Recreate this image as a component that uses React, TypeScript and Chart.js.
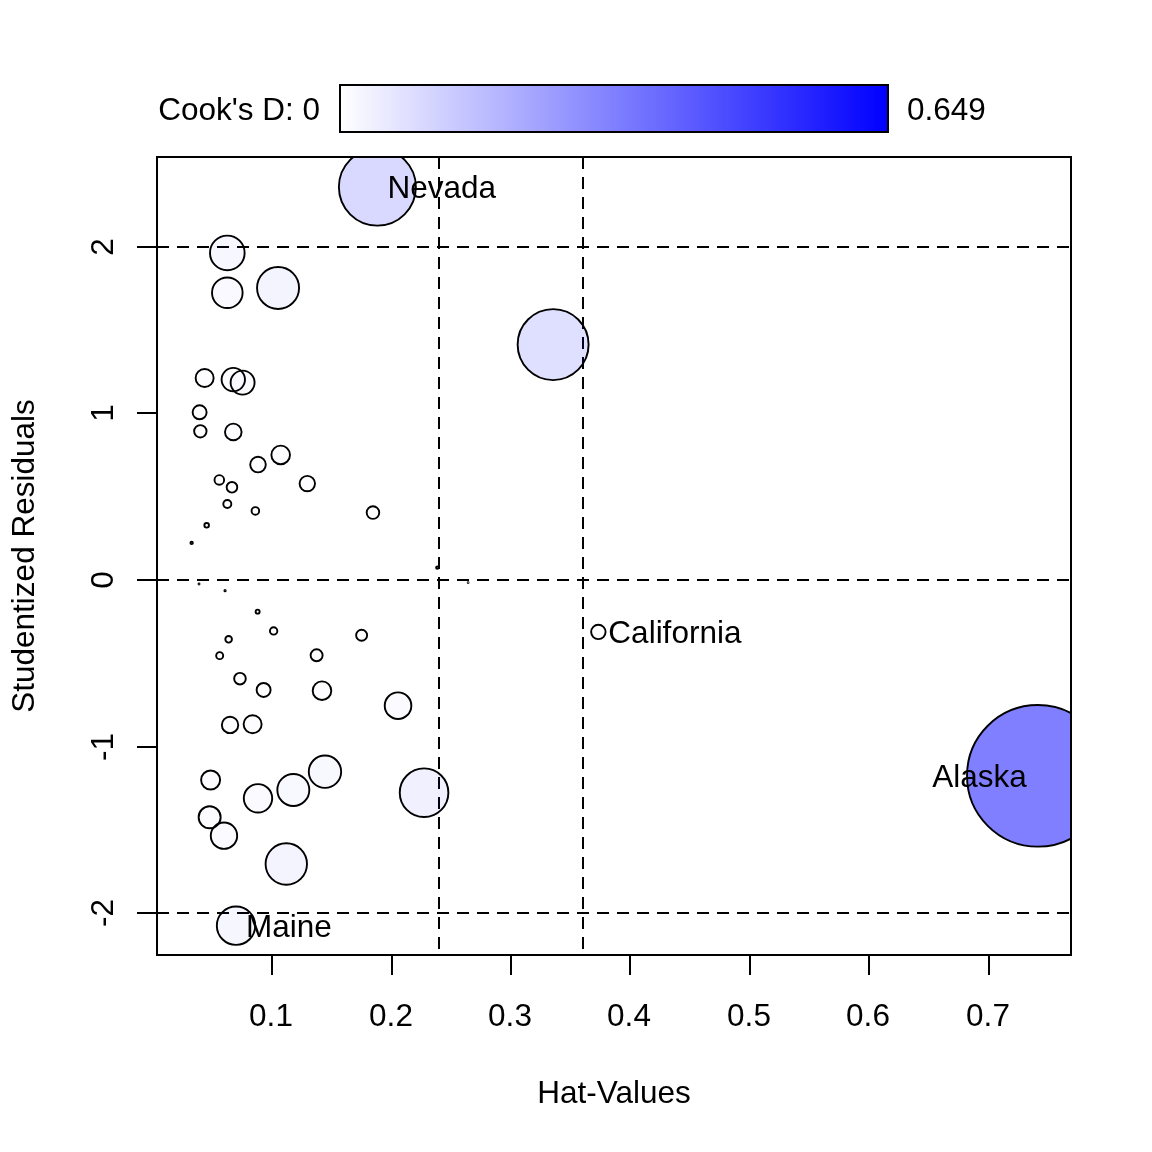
import React, { useEffect, useRef } from "react";
import { Chart, registerables } from "chart.js";

Chart.register(...registerables);

// ---- Data ----
const pointNames = [
  "Nevada", "", "", "", "", "", "", "", "", "",
  "", "", "", "", "", "", "", "", "", "",
  "", "", "", "", "", "", "", "", "", "",
  "", "", "", "", "", "", "", "", "", "",
  "", "", "", "", "Maine", "California", "Alaska", "",
];
const hatValues = [
  0.188, 0.0623, 0.0623, 0.1048, 0.0433, 0.0673, 0.0751, 0.0391, 0.0397, 0.0673,
  0.107, 0.088, 0.0556, 0.0662, 0.1293, 0.0623, 0.0858, 0.1843, 0.045, 0.0324,
  0.2382, 0.0386, 0.0604, 0.264, 0.0877, 0.1011, 0.0634, 0.1748, 0.0559, 0.1371,
  0.0729, 0.0927, 0.1416, 0.2053, 0.0646, 0.0835, 0.0483, 0.088, 0.1176, 0.1441,
  0.2271, 0.0475, 0.0595, 0.1117, 0.0696, 0.3731, 0.7412, 0.3352,
];
const studentizedResiduals = [
  2.357, 1.962, 1.723, 1.752, 1.212, 1.202, 1.184, 1.006, 0.892, 0.888,
  0.75, 0.692, 0.6, 0.556, 0.578, 0.456, 0.414, 0.404, 0.328, 0.222,
  0.074, -0.024, -0.064, -0.016, -0.19, -0.306, -0.356, -0.332, -0.454, -0.452,
  -0.592, -0.66, -0.664, -0.754, -0.87, -0.866, -1.2, -1.31, -1.26, -1.15,
  -1.276, -1.424, -1.534, -1.704, -2.074, -0.312, -1.175, 1.412,
];
const cooksD = [
  0.192, 0.0388, 0.0303, 0.0571, 0.0105, 0.0177, 0.0186, 0.00634, 0.00498, 0.00892,
  0.0112, 0.00788, 0.00298, 0.00364, 0.00768, 0.00207, 0.00187, 0.00514, 0.000685, 0.000186,
  0.00019, 0.00003, 0.00005, 0.00002, 0.000518, 0.00177, 0.00141, 0.00392, 0.00159, 0.00466,
  0.00436, 0.00634, 0.0112, 0.0229, 0.0087, 0.0105, 0.0117, 0.0261, 0.0331, 0.0339,
  0.0765, 0.01567, 0.02256, 0.0555, 0.0477, 0.00671, 0.649, 0.163,
];
const xTickValues = [0.1, 0.2, 0.3, 0.4, 0.5, 0.6, 0.7];
const xTickLabels = ["0.1", "0.2", "0.3", "0.4", "0.5", "0.6", "0.7"];
const yTickValues = [-2, -1, 0, 1, 2];
const yTickLabels = ["-2", "-1", "0", "1", "2"];
const hatCutoffs = [0.24, 0.36];
const residualCutoffs = [-2, 0, 2];
const cooksMaxLabel = "0.649";
const cooksMinLabel = "Cook's D: 0";
const xTitle = "Hat-Values";
const yTitle = "Studentized Residuals";

const FONT = "'Liberation Sans', Arial, Helvetica, sans-serif";
const FONT_SIZE = 31.5;
const MAX_RADIUS = 70.8;
const maxD = Math.max(...cooksD);
const xRange = { min: 0.0034, max: 0.769 };
const yRange = { min: -2.25, max: 2.5375 };

const overlayPlugin = {
  id: "overlay",
  beforeDatasetsDraw(chart: any) {
    const { ctx, chartArea: a, scales } = chart;
    const xs = scales.x;
    const ys = scales.y;
    ctx.save();
    ctx.beginPath();
    ctx.rect(a.left, a.top, a.right - a.left, a.bottom - a.top);
    ctx.clip();
    ctx.strokeStyle = "#000";
    ctx.lineWidth = 2;
    ctx.setLineDash([12, 8]);
    ctx.lineCap = "butt";
    for (const v of residualCutoffs) {
      const py = Math.round(ys.getPixelForValue(v));
      ctx.beginPath();
      ctx.moveTo(a.left, py);
      ctx.lineTo(a.right, py);
      ctx.stroke();
    }
    for (const v of hatCutoffs) {
      const px = Math.round(xs.getPixelForValue(v));
      ctx.beginPath();
      ctx.moveTo(px, a.top);
      ctx.lineTo(px, a.bottom);
      ctx.stroke();
    }
    ctx.restore();
  },
  afterDraw(chart: any) {
    const { ctx, chartArea: a, scales } = chart;
    const xs = scales.x;
    const ys = scales.y;
    ctx.save();
    // point labels
    ctx.fillStyle = "#000";
    ctx.font = `${FONT_SIZE}px ${FONT}`;
    ctx.textBaseline = "alphabetic";
    const mid = (Math.min(...hatValues) + Math.max(...hatValues)) / 2;
    pointNames.forEach((name, i) => {
      if (!name) return;
      const px = xs.getPixelForValue(hatValues[i]);
      const py = ys.getPixelForValue(studentizedResiduals[i]);
      if (hatValues[i] > mid) {
        ctx.textAlign = "right";
        ctx.fillText(name, px - 11, py + 11);
      } else {
        ctx.textAlign = "left";
        ctx.fillText(name, px + 10, py + 11);
      }
    });
    // box
    ctx.strokeStyle = "#000";
    ctx.lineWidth = 2;
    ctx.setLineDash([]);
    ctx.strokeRect(a.left, a.top, a.right - a.left, a.bottom - a.top);
    // x ticks
    ctx.textAlign = "center";
    ctx.textBaseline = "alphabetic";
    xTickValues.forEach((v, i) => {
      const px = Math.round(xs.getPixelForValue(v));
      ctx.beginPath();
      ctx.moveTo(px, a.bottom);
      ctx.lineTo(px, a.bottom + 20);
      ctx.stroke();
      ctx.fillText(xTickLabels[i], px - 1, 1026);
    });
    // y ticks
    yTickValues.forEach((v, i) => {
      const py = Math.round(ys.getPixelForValue(v));
      ctx.beginPath();
      ctx.moveTo(a.left, py);
      ctx.lineTo(a.left - 20, py);
      ctx.stroke();
      ctx.save();
      ctx.translate(113, py);
      ctx.rotate(-Math.PI / 2);
      ctx.textAlign = "center";
      ctx.fillText(yTickLabels[i], 0, 0);
      ctx.restore();
    });
    // axis titles
    ctx.textAlign = "center";
    ctx.fillText(xTitle, (a.left + a.right) / 2, 1103);
    ctx.save();
    ctx.translate(34, (a.top + a.bottom) / 2);
    ctx.rotate(-Math.PI / 2);
    ctx.fillText(yTitle, 0, 0);
    ctx.restore();
    // legend colour bar
    const bx = 340, by = 85, bw = 548, bh = 47;
    const g = ctx.createLinearGradient(bx, 0, bx + bw, 0);
    g.addColorStop(0, "rgb(255,255,255)");
    g.addColorStop(1, "rgb(0,0,255)");
    ctx.fillStyle = g;
    ctx.fillRect(bx, by, bw, bh);
    ctx.strokeStyle = "#000";
    ctx.lineWidth = 2;
    ctx.strokeRect(bx, by, bw, bh);
    ctx.fillStyle = "#000";
    ctx.textAlign = "right";
    ctx.fillText(cooksMinLabel, 320, 120);
    ctx.textAlign = "left";
    ctx.fillText(cooksMaxLabel, 907, 120);
    ctx.restore();
  },
};

export default function App() {
  const canvasRef = useRef<HTMLCanvasElement | null>(null);

  useEffect(() => {
    const canvas = canvasRef.current;
    if (!canvas) return;
    const data = hatValues.map((x, i) => ({ x, y: studentizedResiduals[i] }));
    const radii = cooksD.map((d) => MAX_RADIUS * Math.sqrt(d / maxD));
    const fills = cooksD.map((d) => `rgba(0,0,255,${(0.5 * d) / maxD})`);
    const chart = new Chart(canvas, {
      type: "scatter",
      data: {
        datasets: [
          {
            data,
            pointRadius: radii,
            pointHoverRadius: radii,
            pointBackgroundColor: fills,
            pointBorderColor: "#000",
            pointBorderWidth: 1.9,
            clip: 0,
          } as any,
        ],
      },
      options: {
        responsive: false,
        animation: false,
        devicePixelRatio: 1,
        layout: { padding: { left: 157, top: 157, right: 81, bottom: 197 } },
        plugins: { legend: { display: false }, tooltip: { enabled: false } },
        events: [],
        scales: {
          x: { type: "linear", display: false, min: xRange.min, max: xRange.max },
          y: { type: "linear", display: false, min: yRange.min, max: yRange.max },
        },
      },
      plugins: [overlayPlugin],
    });
    return () => chart.destroy();
  }, []);

  return (
    <div style={{ position: "fixed", left: 0, top: 0, width: 1152, height: 1152, background: "#fff" }}>
      <canvas ref={canvasRef} width={1152} height={1152} style={{ width: 1152, height: 1152 }} />
    </div>
  );
}
